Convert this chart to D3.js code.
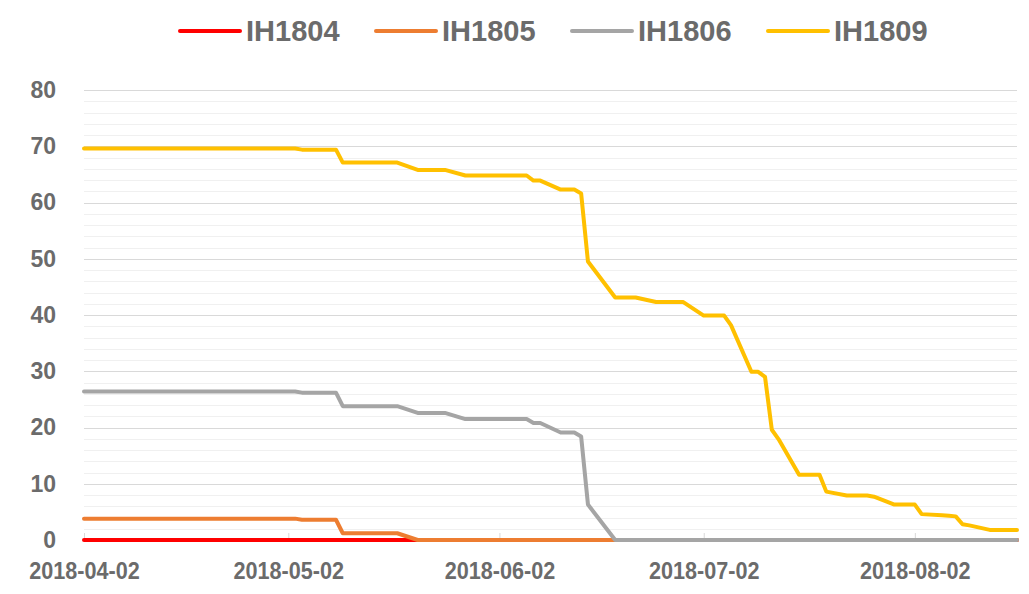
<!DOCTYPE html>
<html>
<head>
<meta charset="utf-8">
<script src="https://cdn.jsdelivr.net/npm/d3@7"></script>
<style>
  html, body { margin: 0; padding: 0; background: #ffffff; }
  svg { display: block; }
  text { font-family: "Liberation Sans", Arial, sans-serif; font-weight: bold; fill: #6b6b6b; }
</style>
</head>
<body>
<svg id="chart" width="1029" height="594"></svg>
<script>
// ---------------- data ----------------
const seriesNames = ["IH1804", "IH1805", "IH1806", "IH1809"];
const seriesColors = ["#FF0000", "#ED7D31", "#A5A5A5", "#FFC000"];

const ih1804Dates  = ["2018-04-02", "2018-08-17"];
const ih1804Values = [0, 0];

const ih1805Dates  = ["2018-04-02", "2018-05-03", "2018-05-04", "2018-05-09", "2018-05-10", "2018-05-18", "2018-05-21", "2018-08-17"];
const ih1805Values = [3.8, 3.8, 3.6, 3.6, 1.2, 1.2, 0, 0];

const ih1806Dates  = ["2018-04-02", "2018-05-03", "2018-05-04", "2018-05-09", "2018-05-10", "2018-05-18", "2018-05-21",
                      "2018-05-25", "2018-05-28", "2018-06-06", "2018-06-07", "2018-06-08", "2018-06-11", "2018-06-13",
                      "2018-06-14", "2018-06-15", "2018-06-19", "2018-08-17"];
const ih1806Values = [26.4, 26.4, 26.2, 26.2, 23.8, 23.8, 22.6, 22.6, 21.5, 21.5, 20.8, 20.8, 19.1, 19.1, 18.4, 6.3, 0, 0];

const ih1809Dates  = ["2018-04-02", "2018-05-03", "2018-05-04", "2018-05-09", "2018-05-10", "2018-05-18", "2018-05-21",
                      "2018-05-25", "2018-05-28", "2018-06-06", "2018-06-07", "2018-06-08", "2018-06-11", "2018-06-13",
                      "2018-06-14", "2018-06-15", "2018-06-19", "2018-06-22", "2018-06-25", "2018-06-29", "2018-07-02",
                      "2018-07-05", "2018-07-06", "2018-07-09", "2018-07-10", "2018-07-11", "2018-07-12", "2018-07-13",
                      "2018-07-16", "2018-07-19", "2018-07-20", "2018-07-23", "2018-07-26", "2018-07-27", "2018-07-30",
                      "2018-08-02", "2018-08-03", "2018-08-06", "2018-08-07", "2018-08-08", "2018-08-09", "2018-08-10",
                      "2018-08-13", "2018-08-17"];
const ih1809Values = [69.6, 69.6, 69.4, 69.4, 67.1, 67.1, 65.8, 65.8, 64.8, 64.8, 63.9, 63.9, 62.3, 62.3,
                      61.6, 49.5, 43.1, 43.1, 42.3, 42.3, 39.9, 39.9, 38.2, 29.9, 29.9, 29.0, 19.6, 17.9,
                      11.6, 11.6, 8.6, 7.9, 7.9, 7.7, 6.3, 6.3, 4.6, 4.4, 4.3, 4.2, 2.8, 2.6, 1.8, 1.8];

const xTickLabels = ["2018-04-02", "2018-05-02", "2018-06-02", "2018-07-02", "2018-08-02"];
const yTickLabels = [0, 10, 20, 30, 40, 50, 60, 70, 80];
const yMinorStep = 2;
const xDomain = ["2018-04-02", "2018-08-17"];

// ---------------- chart ----------------
(function () {
const parse = d3.utcParse("%Y-%m-%d");
const fmt = d3.utcFormat("%Y-%m-%d");
const svg = d3.select("#chart");

const mLeft = 84, mRight = 1017, mTop = 90, mBottom = 540;

const x = d3.scaleUtc().domain(xDomain.map(parse)).range([mLeft, mRight]);
const y = d3.scaleLinear().domain([0, 80]).range([mBottom, mTop]);

// gridlines
const minorVals = d3.range(0, 80 + 0.001, yMinorStep).filter(v => v % 10 !== 0);
svg.append("g").selectAll("line").data(minorVals).join("line")
  .attr("x1", mLeft).attr("x2", mRight)
  .attr("y1", d => Math.round(y(d)) + 0.5).attr("y2", d => Math.round(y(d)) + 0.5)
  .attr("stroke", "#f0f0f0").attr("stroke-width", 1);
svg.append("g").selectAll("line").data(yTickLabels).join("line")
  .attr("x1", mLeft).attr("x2", mRight)
  .attr("y1", d => Math.round(y(d)) + 0.5).attr("y2", d => Math.round(y(d)) + 0.5)
  .attr("stroke", "#d9d9d9").attr("stroke-width", 1);

// x axis
const xAxis = d3.axisBottom(x)
  .tickValues(xTickLabels.map(parse))
  .tickFormat(fmt)
  .tickSizeInner(-7).tickSizeOuter(0)
  .tickPadding(23);
const gx = svg.append("g").attr("transform", `translate(0,${mBottom})`).call(xAxis);
gx.select(".domain").attr("stroke", "#d9d9d9");
gx.selectAll(".tick line").attr("stroke", "#d9d9d9");
gx.selectAll(".tick text").attr("font-size", 23).attr("fill", "#6b6b6b")
  .attr("transform", "scale(0.94,1)")
  .style("font-family", "'Liberation Sans', Arial, sans-serif").style("font-weight", "bold");

// y axis
const yAxis = d3.axisLeft(y).tickValues(yTickLabels).tickSize(0).tickPadding(28);
const gy = svg.append("g").attr("transform", `translate(${mLeft},0)`).call(yAxis);
gy.select(".domain").remove();
gy.selectAll(".tick text").attr("font-size", 23).attr("fill", "#6b6b6b")
  .style("font-family", "'Liberation Sans', Arial, sans-serif").style("font-weight", "bold");

// lines
const allDates = [ih1804Dates, ih1805Dates, ih1806Dates, ih1809Dates];
const allValues = [ih1804Values, ih1805Values, ih1806Values, ih1809Values];
const line = d3.line().x(d => x(d[0])).y(d => y(d[1]));
seriesNames.forEach((name, i) => {
  const pts = allDates[i].map((d, j) => [parse(d), allValues[i][j]]);
  svg.append("path").datum(pts)
    .attr("d", line)
    .attr("fill", "none")
    .attr("stroke", seriesColors[i])
    .attr("stroke-width", 4)
    .attr("stroke-linejoin", "round")
    .attr("stroke-linecap", "round");
});

// legend
const legendX0 = 180, legendStep = 196, legendY = 31;
const lg = svg.append("g");
seriesNames.forEach((name, i) => {
  const lx = legendX0 + i * legendStep;
  lg.append("line").attr("x1", lx).attr("x2", lx + 60)
    .attr("y1", legendY).attr("y2", legendY)
    .attr("stroke", seriesColors[i]).attr("stroke-width", 4).attr("stroke-linecap", "round");
  lg.append("text").attr("x", lx + 66).attr("y", legendY + 10)
    .attr("font-size", 29).text(name);
});
})();
</script>
</body>
</html>
